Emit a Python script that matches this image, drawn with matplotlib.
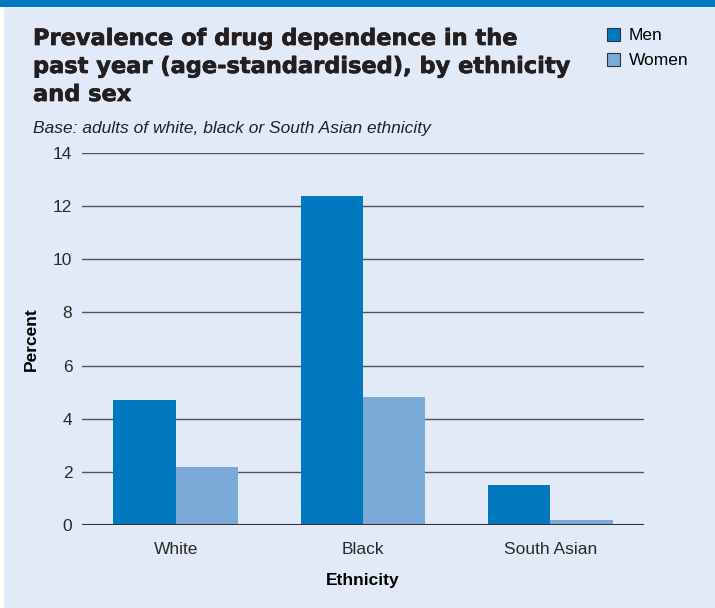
import numpy as np
import matplotlib.pyplot as plt
import matplotlib.patheffects as pe
from matplotlib.patches import Rectangle

ethnicity = ['White', 'Black', 'South Asian']
men = [4.7, 12.4, 1.5]
women = [2.2, 4.8, 0.2]
yticks = [0, 2, 4, 6, 8, 10, 12, 14]
title_lines = ['Prevalence of drug dependence in the',
               'past year (age-standardised), by ethnicity',
               'and sex']

bg = '#E2EAF7'
c_men = '#0079C1'
c_women = '#7BAAD9'

plt.rcParams['font.family'] = ['Liberation Sans', 'DejaVu Sans']

fig = plt.figure(figsize=(7.15, 6.08), dpi=100)
fig.patch.set_facecolor('white')
W, H = 715, 608

# background panel and top band
fig.add_artist(Rectangle((4 / W, 0), 1 - 4 / W, 1, transform=fig.transFigure,
                         facecolor=bg, edgecolor='none', zorder=-10))
fig.add_artist(Rectangle((0, 1 - 7 / H), 1, 7 / H, transform=fig.transFigure,
                         facecolor=c_men, edgecolor='none', zorder=-9))

ax = fig.add_axes([82 / W, 1 - 525 / H, (644 - 82) / W, (525 - 153) / H])
ax.set_facecolor(bg)

x = np.arange(len(ethnicity))
w = 1 / 3
ax.bar(x - w / 2, men, w, color=c_men, zorder=3, label='Men')
ax.bar(x + w / 2, women, w, color=c_women, zorder=3, label='Women')

ax.set_xlim(-0.5, 2.5)
ax.set_ylim(0, 14)
ax.set_yticks(yticks)
ax.set_xticks(x)
ax.set_xticklabels(ethnicity)
for v in yticks:
    ax.axhline(v, color='#333333' if v == 0 else '#555555',
               lw=1.5 if v == 0 else 1.0, zorder=2 if v else 4)
for s in ax.spines.values():
    s.set_visible(False)
ax.tick_params(length=0, labelsize=12.5, colors='#2a2a2a')
ax.tick_params(axis='y', pad=7)
ax.tick_params(axis='x', pad=12)
ax.set_ylabel('Percent', fontsize=12.5, fontweight='bold', labelpad=10)
ax.set_xlabel('Ethnicity', fontsize=12.5, fontweight='bold', labelpad=12)

# title, one line at a time (baselines 28 px apart)
for i, line in enumerate(title_lines):
    fig.text(33 / W, 1 - (45 + 28 * i) / H, line,
             fontsize=16.2, fontweight='bold', family='DejaVu Sans', color='#231F20',
             va='baseline', ha='left',
             path_effects=[pe.withStroke(linewidth=0.5, foreground='#231F20')])
fig.text(33 / W, 1 - 128 / H, 'Base: adults of white, black or South Asian ethnicity',
         fontsize=12.5, style='italic', color='#222222', va='center', ha='left')

leg = ax.legend(loc='upper left', bbox_to_anchor=(607 / W, 1 - 28 / H),
                bbox_transform=fig.transFigure, frameon=False, fontsize=12.5,
                handlelength=0.75, handleheight=0.75, handletextpad=0.5,
                labelspacing=0.55, borderaxespad=0, borderpad=0)
for p in leg.get_patches():
    p.set_edgecolor('#333333')
    p.set_linewidth(0.8)

fig.savefig('out.png', dpi=100, facecolor=fig.get_facecolor())
